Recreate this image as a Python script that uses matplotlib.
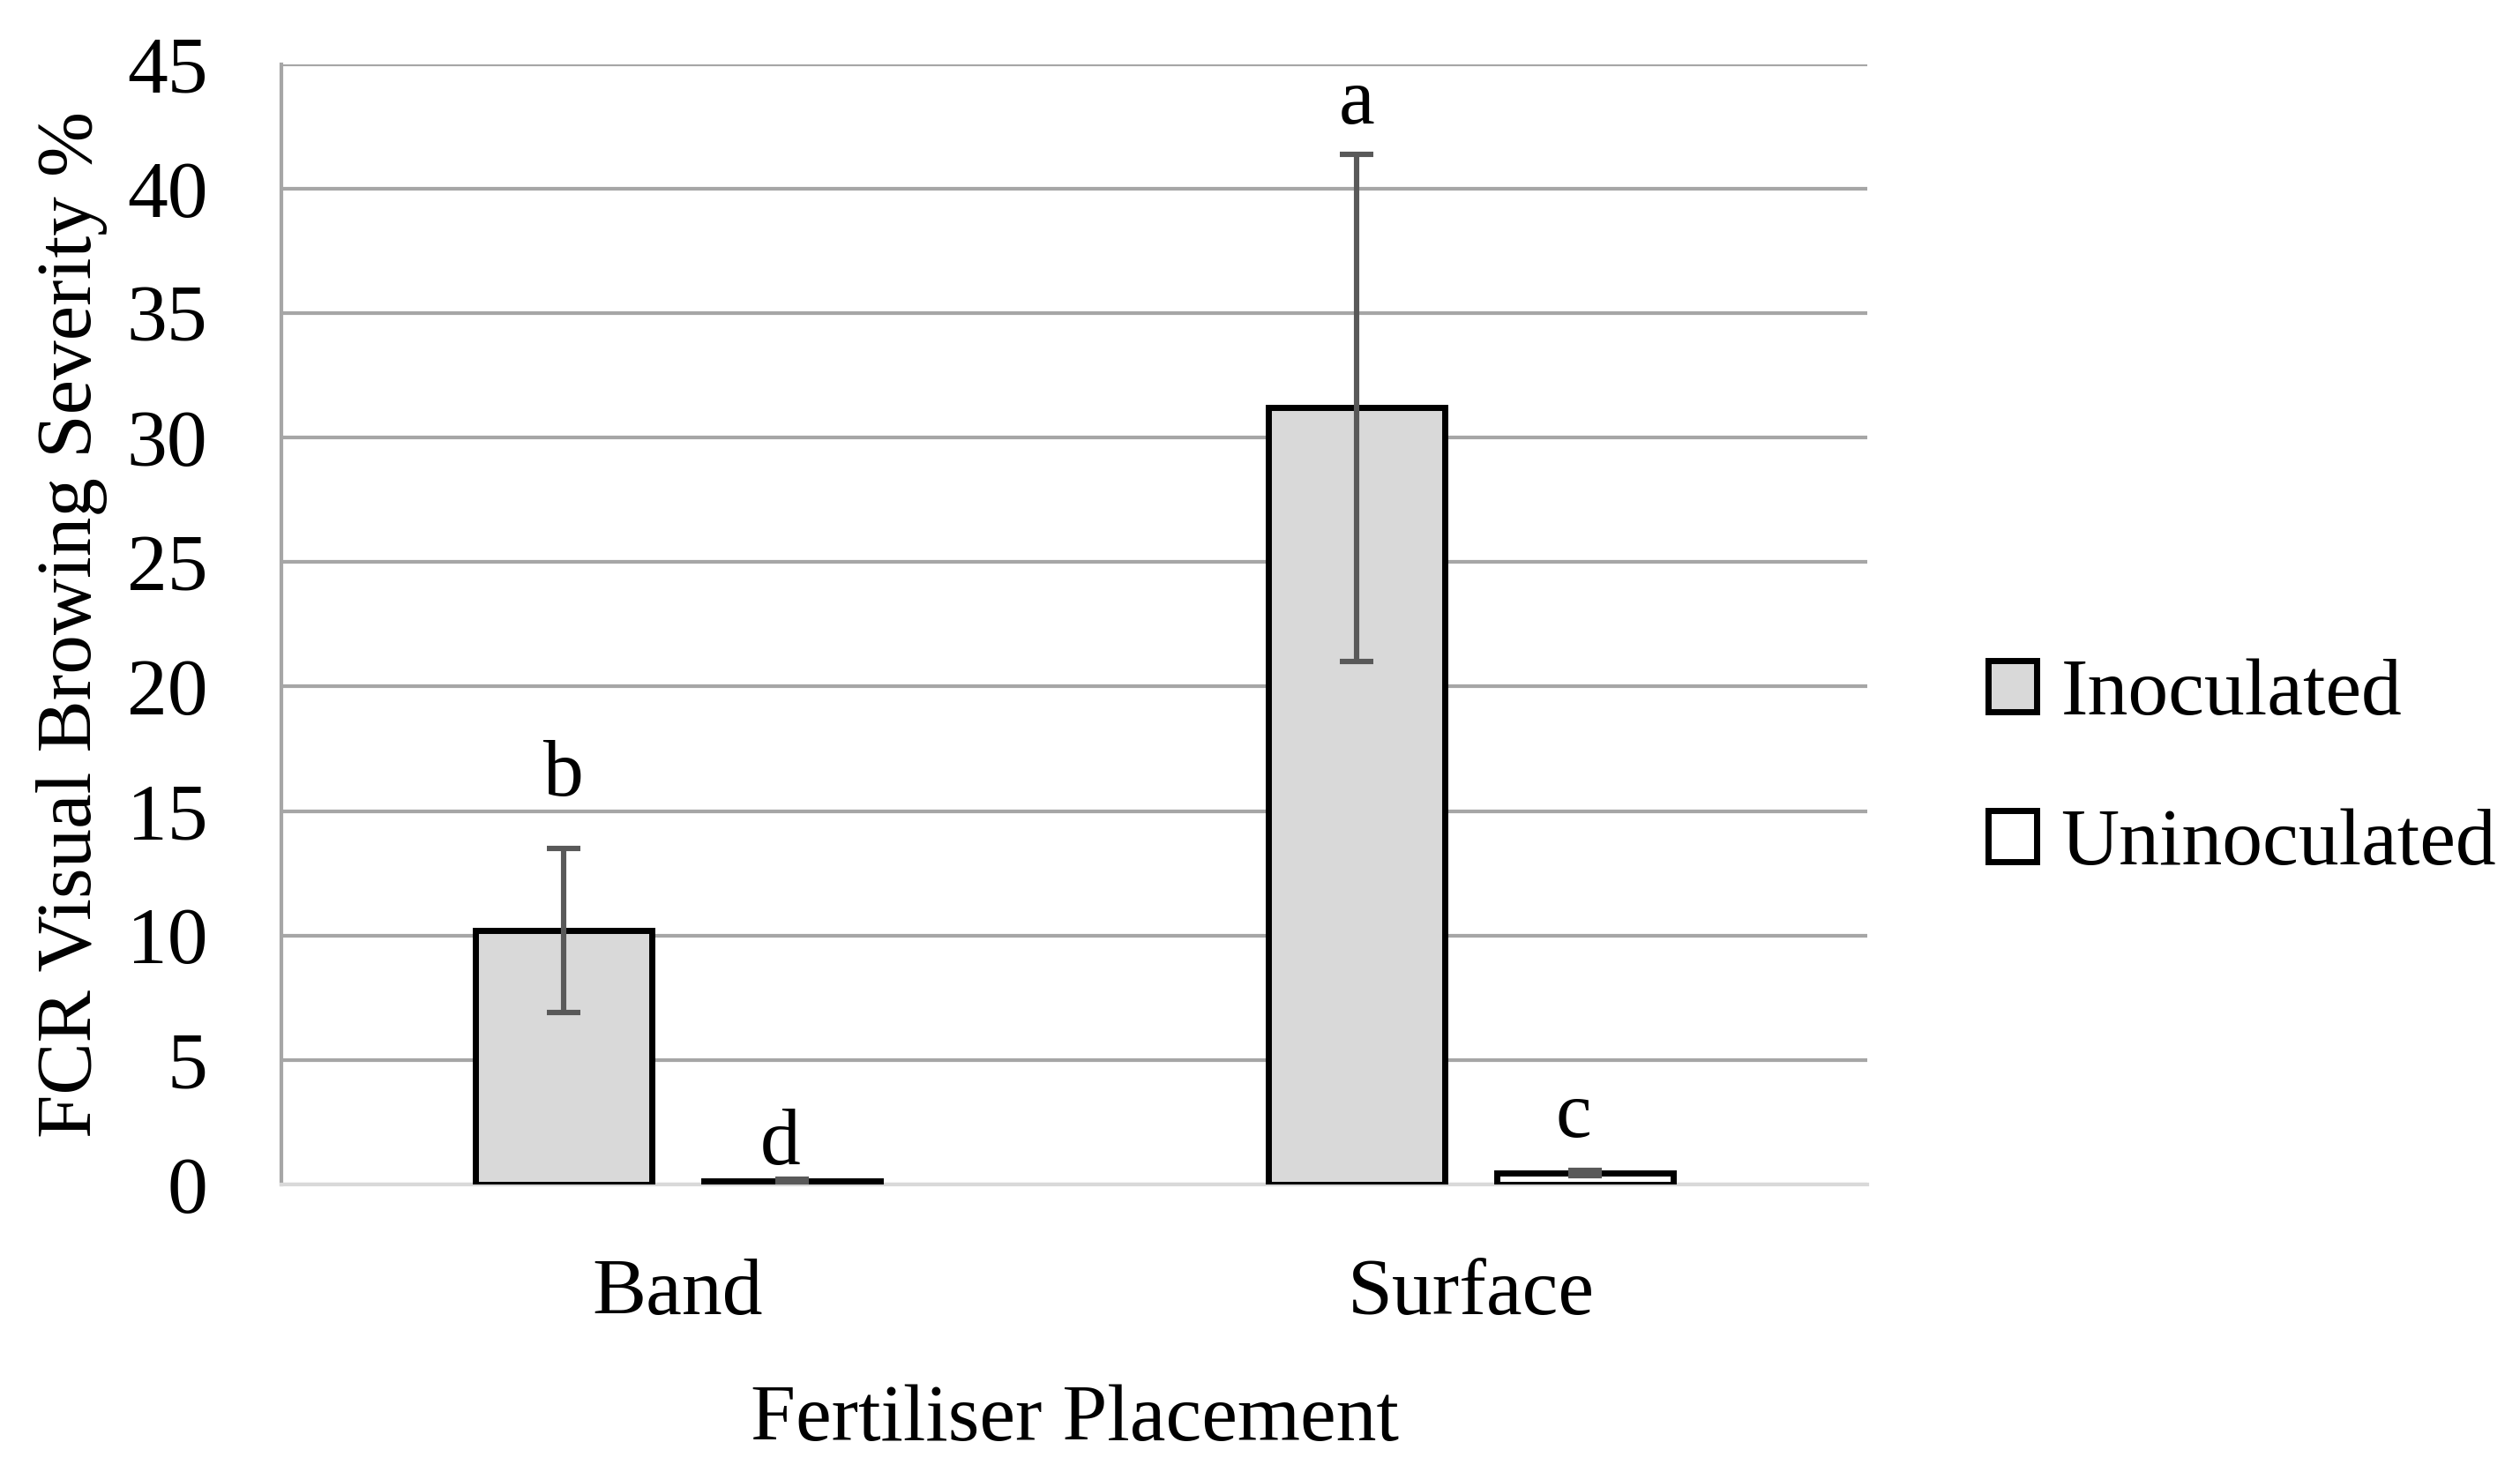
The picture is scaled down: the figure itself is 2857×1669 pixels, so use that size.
import matplotlib
matplotlib.use("Agg")
import matplotlib.pyplot as plt
import numpy as np
from matplotlib.patches import Patch

# data
categories = ["Band", "Surface"]
series = ["Inoculated", "Uninoculated"]
inoc_mean = [10.2, 31.2]
inoc_err = [3.3, 10.2]
uninoc_mean = [0.15, 0.45]
uninoc_err = [0.05, 0.1]
inoc_letters = ["b", "a"]
uninoc_letters = ["d", "c"]
inoc_letter_y = [16.4, 43.4]
uninoc_letter_y = [1.6, 2.7]
yticks = [0, 5, 10, 15, 20, 25, 30, 35, 40, 45]

plt.rcParams["font.family"] = ["Liberation Serif", "DejaVu Serif"]

FILL = "#d9d9d9"
GRID = "#a6a6a6"
ERR = "#595959"
FS = 33

fig = plt.figure(figsize=(14.285, 8.345), dpi=200)
ax = fig.add_axes([0.1116, 0.1954, 0.6295, 0.7609])

x = np.arange(len(categories))
w = 0.223
off = 0.144

ax.bar(x - off, inoc_mean, w, color=FILL, edgecolor="black", linewidth=2.5, zorder=3)
ax.bar(x + off, uninoc_mean, w, color="white", edgecolor="black", linewidth=2.5, zorder=3)
ax.errorbar(x - off, inoc_mean, yerr=inoc_err, fmt="none", ecolor=ERR,
            elinewidth=2.2, capsize=7, capthick=2.2, zorder=4)
ax.errorbar(x + off, uninoc_mean, yerr=uninoc_err, fmt="none", ecolor=ERR,
            elinewidth=2.2, capsize=7, capthick=2.2, zorder=4)

for xi, lab, ly in zip(x - off, inoc_letters, inoc_letter_y):
    ax.text(xi, ly, lab, ha="center", va="center", fontsize=FS)
for xi, lab, ly in zip(x + off, uninoc_letters, uninoc_letter_y):
    ax.text(xi - 0.015, ly, lab, ha="center", va="center", fontsize=FS)

ax.set_xlim(-0.5, 1.5)
ax.set_ylim(0, 45)
ax.set_yticks(yticks)
ax.set_xticks(x)
ax.set_xticklabels(categories)
ax.tick_params(axis="both", length=0, labelsize=FS)
ax.tick_params(axis="x", pad=30)
ax.tick_params(axis="y", pad=30)

ax.yaxis.grid(True, color=GRID, linewidth=1.5, zorder=0)
ax.set_axisbelow(True)
for s in ["top", "right"]:
    ax.spines[s].set_visible(False)
ax.spines["left"].set_color(GRID)
ax.spines["left"].set_linewidth(1.5)
ax.spines["bottom"].set_color(FILL)
ax.spines["bottom"].set_linewidth(1.5)

ax.set_ylabel("FCR Visual Browing Severity %", fontsize=32, labelpad=8)
ax.set_xlabel("Fertiliser Placement", fontsize=FS, labelpad=22)

handles = [Patch(facecolor=FILL, edgecolor="black", linewidth=2.5),
           Patch(facecolor="white", edgecolor="black", linewidth=2.5)]
fig.legend(handles, series, loc="center left", bbox_to_anchor=(0.760, 0.477),
           frameon=False, fontsize=FS, handlelength=0.6, handleheight=0.6,
           handletextpad=0.3, labelspacing=0.95)

fig.savefig("out.png", dpi=200)
